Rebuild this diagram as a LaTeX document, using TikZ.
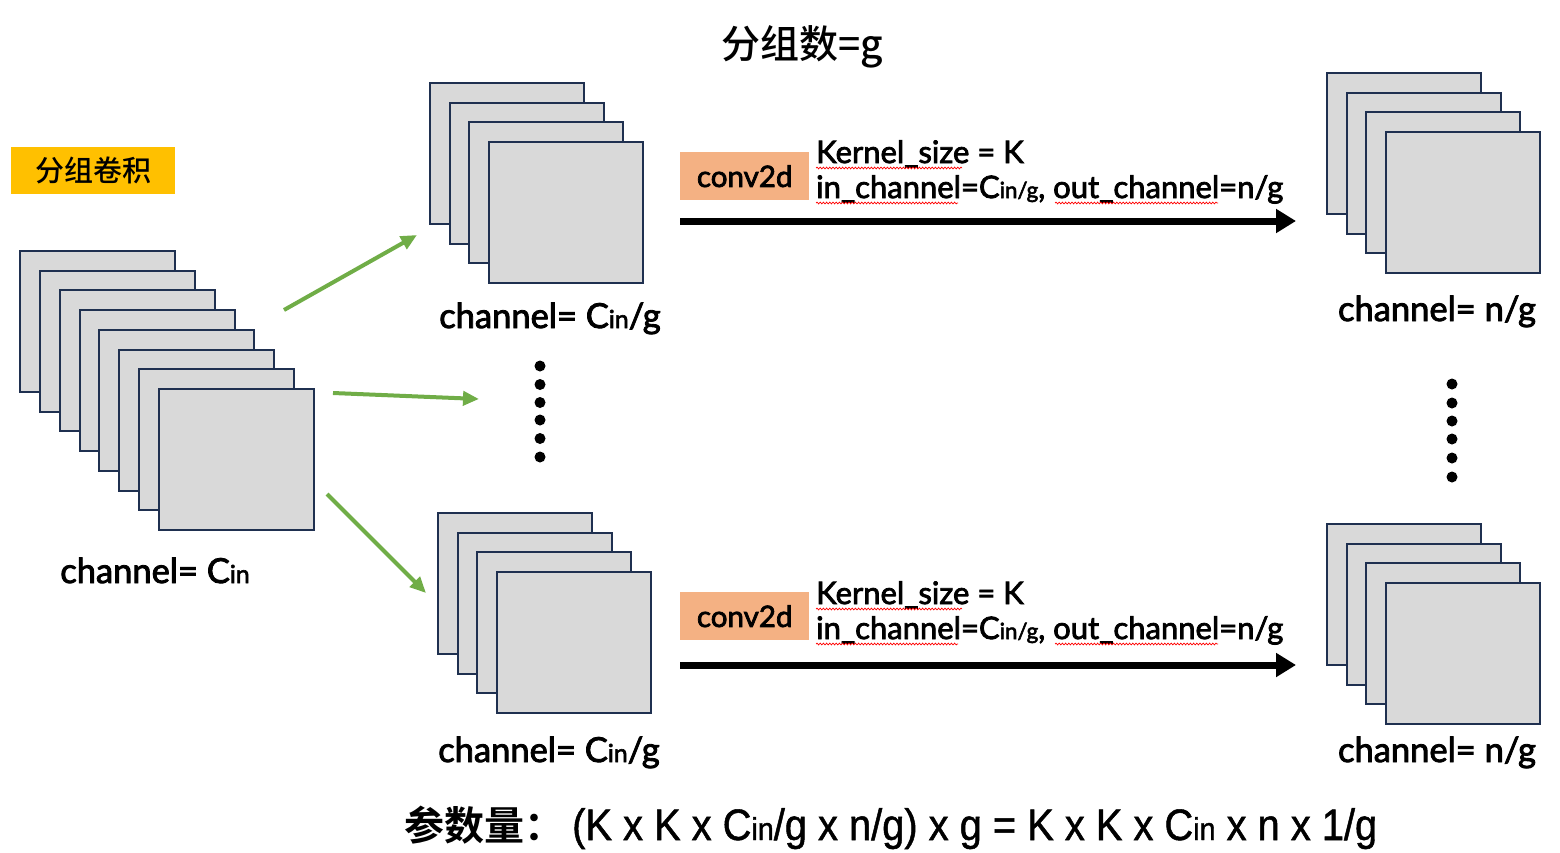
\documentclass[tikz,border=0pt]{standalone}
\usepackage{fontspec}
\usepackage{graphicx}
\usetikzlibrary{arrows.meta,decorations.pathmorphing}
\setmainfont{Lato}[UprightFeatures={FakeBold=2.5}]
\newfontfamily\latinfont{Liberation Sans}[UprightFeatures={FakeBold=1.2}]
\newfontfamily\cjkfont{Noto Sans CJK SC}[UprightFont=* Medium, BoldFont=* Bold]
\definecolor{navy}{HTML}{1F3050}
\definecolor{sqfill}{HTML}{D9D9D9}
\definecolor{ggreen}{HTML}{70AD47}
\definecolor{gold}{HTML}{FFC000}
\definecolor{peach}{HTML}{F4B183}
\newcommand\smalltxt[1]{\scalebox{0.72}{#1}}
\begin{document}
\begin{tikzpicture}[x=1pt,y=-1pt,
  sq/.style={draw=navy, fill=sqfill, line width=2pt, minimum width=154pt, minimum height=141pt, inner sep=0pt, outer sep=0pt, anchor=north west},
  garrow/.style={draw=ggreen, line width=4pt, -{Triangle[length=16pt,width=14pt]}},
  barrow/.style={draw=black, line width=7pt, -{Triangle[length=20pt,width=23pt]}},
  lbl/.style={inner sep=0pt, anchor=base, font=\fontsize{34.5}{38}\selectfont},
  ktxt/.style={inner sep=0pt, anchor=base west, font=\fontsize{31}{34}\selectfont},
  convbox/.style={fill=peach, minimum width=129pt, minimum height=48pt, inner sep=0pt, anchor=north west, font=\fontsize{29.5}{32}\selectfont},
  dot/.style={circle, fill=black, minimum size=11pt, inner sep=0pt},
  squig/.style={draw=red, line width=0.7pt, decorate, decoration={snake, amplitude=0.9pt, segment length=3.2pt}}
]
\useasboundingbox (0,0) rectangle (1560,852);

% title
\node[inner sep=0pt, anchor=base, font=\cjkfont\fontsize{39}{42}\selectfont] (title) at (802,58) {分组数=g};

% yellow tag
\node[fill=gold, minimum width=164pt, minimum height=47pt, inner sep=0pt, anchor=north west, font=\cjkfont\fontsize{29}{30}\selectfont] (tag) at (11,147) {分组卷积};

% left stack
\foreach \i in {1,...,8}
  \node[sq, minimum width=155pt] (L\i) at ({20+(\i-1)*19.86},{251+(\i-1)*19.7}) {};
\node[lbl] (Llbl) at (155,583) {channel= C\smalltxt{in}};

% top middle stack
\foreach \i in {1,...,4}
  \node[sq] (TM\i) at ({430+(\i-1)*19.67},{83+(\i-1)*19.67}) {};
\node[lbl] (TMlbl) at (550,328) {channel= C\smalltxt{in}/g};

% bottom middle stack
\foreach \i in {1,...,4}
  \node[sq] (BM\i) at ({438+(\i-1)*19.67},{513+(\i-1)*19.67}) {};
\node[lbl] (BMlbl) at (549,762) {channel= C\smalltxt{in}/g};

% top right stack
\foreach \i in {1,...,4}
  \node[sq] (TR\i) at ({1327+(\i-1)*19.67},{73+(\i-1)*19.67}) {};
\node[lbl] (TRlbl) at (1437,321) {channel= n/g};

% bottom right stack
\foreach \i in {1,...,4}
  \node[sq] (BR\i) at ({1327+(\i-1)*19.67},{524+(\i-1)*19.67}) {};
\node[lbl] (BRlbl) at (1437,762) {channel= n/g};

% dots
\foreach \j/\y in {1/366,2/384.5,3/402.5,4/420,5/438.5,6/457}
  \node[dot] (md\j) at (540,\y) {};
\foreach \j/\y in {1/384,2/403,3/421,4/439,5/458,6/477}
  \node[dot] (rd\j) at (1452,\y) {};

% green arrows
\coordinate (g1s) at (284,310); \coordinate (g1e) at (417,235);
\coordinate (g2s) at (333,393); \coordinate (g2e) at (479,399);
\coordinate (g3s) at (327,494); \coordinate (g3e) at (426,593);
\draw[garrow] (g1s) -- (g1e);
\draw[garrow] (g2s) -- (g2e);
\draw[garrow] (g3s) -- (g3e);

% top conv
\node[convbox] (conv1) at (680,152) {conv2d};
\node[ktxt] (k1) at (816,163) {Kernel\_size = K};
\node[ktxt] (c1) at (816,198) {in\_channel=C\smalltxt{in/g}, out\_channel=n/g};
\draw[squig] (816,168) -- (962,168);
\draw[squig] (816,203) -- (958,203);
\draw[squig] (1055,203) -- (1218,203);
\coordinate (a1s) at (680,221); \coordinate (a1e) at (1296,221);
\draw[barrow] (a1s) -- (a1e);

% bottom conv
\node[convbox] (conv2) at (680,592) {conv2d};
\node[ktxt] (k2) at (816,604) {Kernel\_size = K};
\node[ktxt] (c2) at (816,639) {in\_channel=C\smalltxt{in/g}, out\_channel=n/g};
\draw[squig] (816,609) -- (962,609);
\draw[squig] (816,644) -- (958,644);
\draw[squig] (1055,644) -- (1218,644);
\coordinate (a2s) at (680,665); \coordinate (a2e) at (1296,665);
\draw[barrow] (a2s) -- (a2e);

% formula
\node[inner sep=0pt, anchor=base west, font=\cjkfont\bfseries\fontsize{40}{44}\selectfont] (fcjk) at (404,840) {参数量：};
\node[inner sep=0pt, anchor=base west] (formula) at (572,840) {\resizebox{805pt}{\height}{\latinfont\fontsize{44}{46}\selectfont (K x K x C\smalltxt{in}/g x n/g) x g = K x K x C\smalltxt{in} x n x 1/g}};
\end{tikzpicture}
\end{document}
